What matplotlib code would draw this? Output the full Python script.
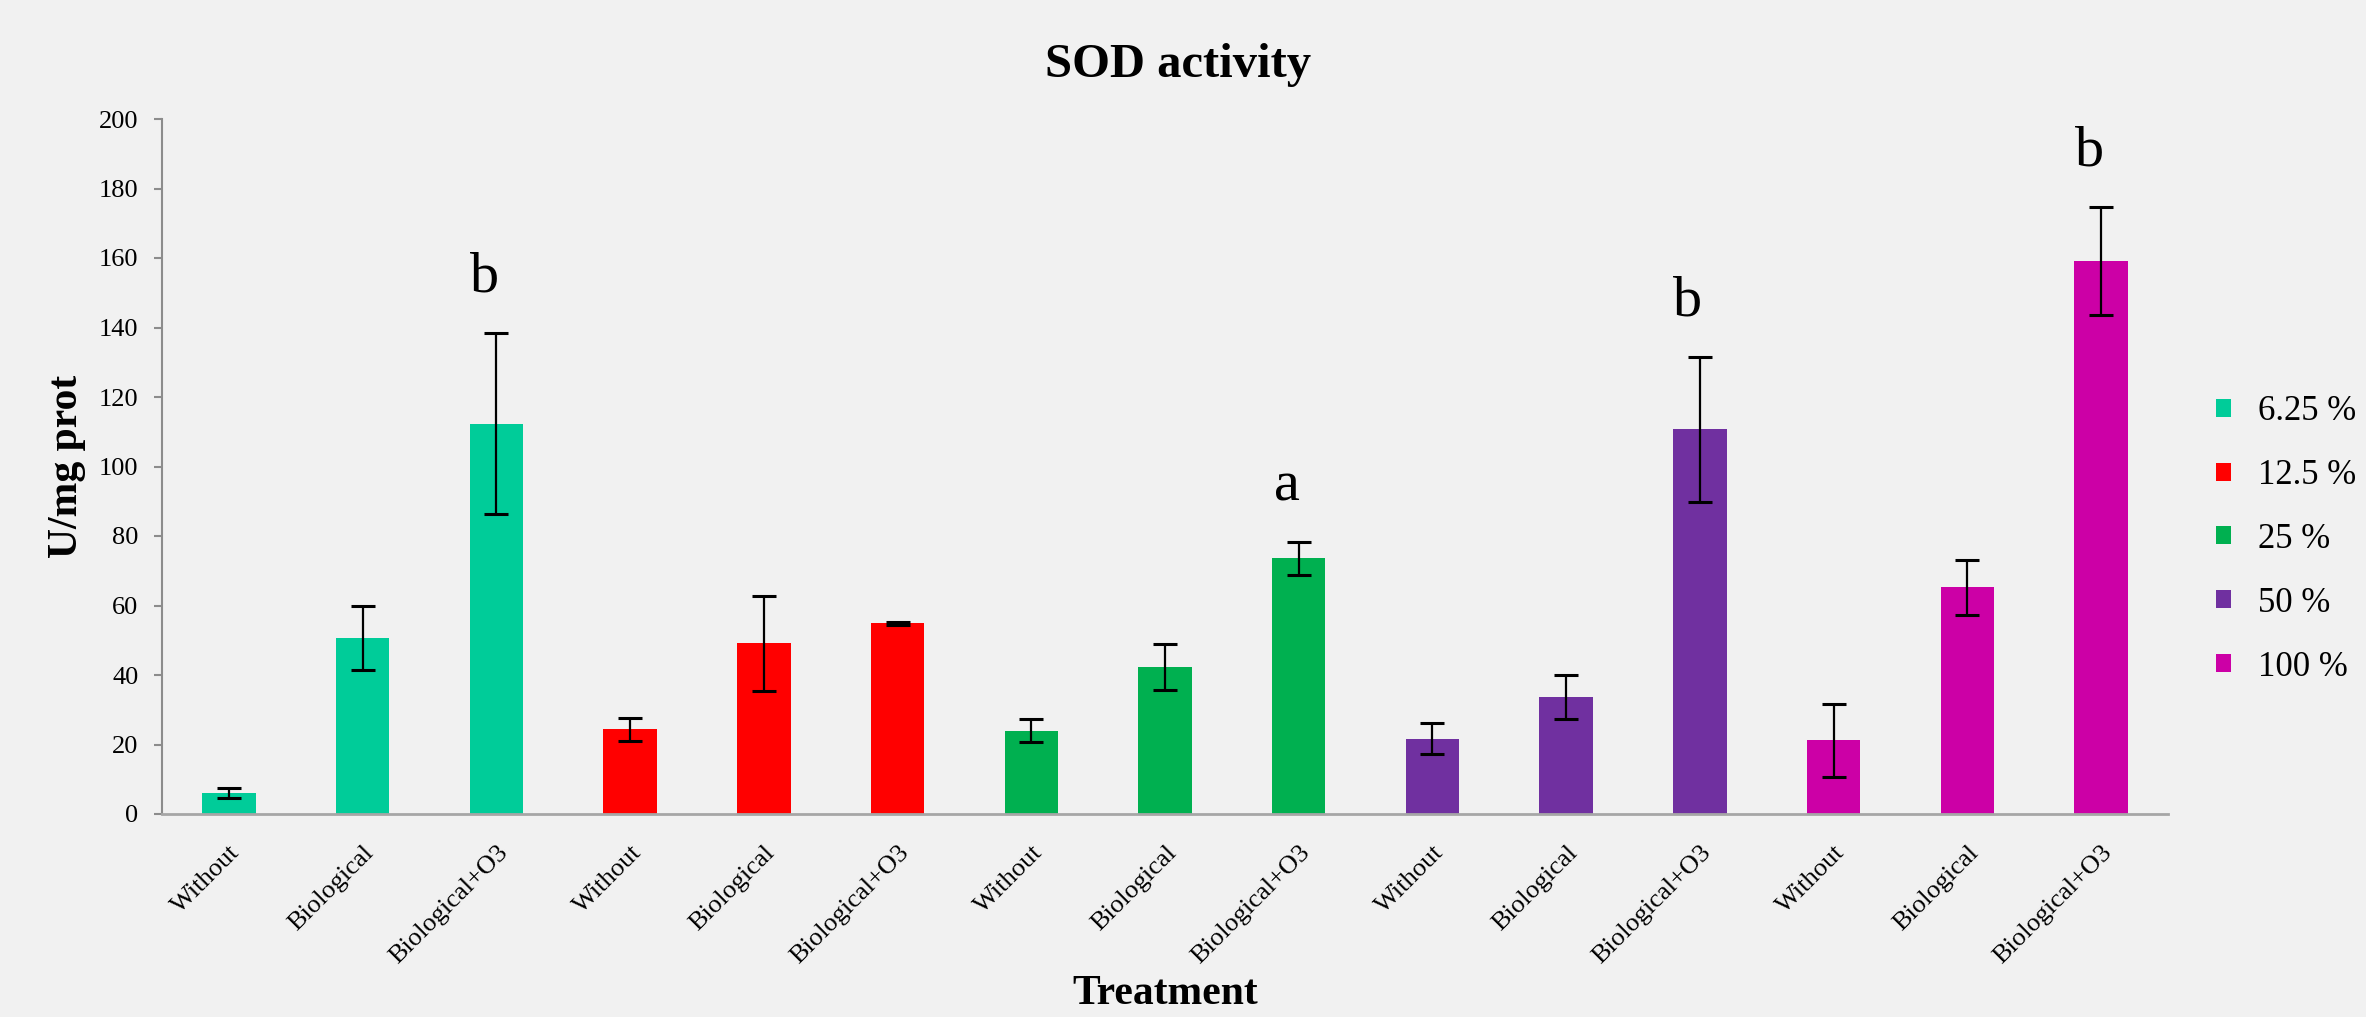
import matplotlib
matplotlib.use("Agg")
import matplotlib.pyplot as plt
from matplotlib.patches import Patch
import numpy as np

# ---------------- data ----------------
treatments = ["Without", "Biological", "Biological+O3"]
concentrations = ["6.25 %", "12.5 %", "25 %", "50 %", "100 %"]

sod_6_25 = [6.0, 50.6, 112.3]
sod_12_5 = [24.4, 49.1, 54.9]
sod_25 = [24.0, 42.2, 73.6]
sod_50 = [21.7, 33.6, 110.7]
sod_100 = [21.2, 65.2, 159.2]

err_6_25 = [1.5, 9.3, 26.0]
err_12_5 = [3.3, 13.6, 0.4]
err_25 = [3.2, 6.6, 4.7]
err_50 = [4.5, 6.4, 20.8]
err_100 = [10.5, 7.8, 15.5]

letters_6_25 = ["", "", "b"]
letters_12_5 = ["", "", ""]
letters_25 = ["", "", "a"]
letters_50 = ["", "", "b"]
letters_100 = ["", "", "b"]

yticks = [0, 20, 40, 60, 80, 100, 120, 140, 160, 180, 200]

colors = ["#00CC99", "#FF0000", "#00B050", "#7030A0", "#CC00A6"]

means = [sod_6_25, sod_12_5, sod_25, sod_50, sod_100]
errs = [err_6_25, err_12_5, err_25, err_50, err_100]
letters = [letters_6_25, letters_12_5, letters_25, letters_50, letters_100]

# ---------------- style ----------------
BG = "#F1F1F1"
FONT = "Liberation Serif"
plt.rcParams["font.family"] = [FONT, "DejaVu Serif"]

W, H = 2366, 1017
fig = plt.figure(figsize=(W / 100, H / 100), dpi=100, facecolor=BG)
ax = fig.add_axes([162 / W, 1 - 814 / H, (2168 - 162) / W, (814 - 119) / H])
ax.set_facecolor(BG)

xlabels = []
pos = 0
for g, (m, e, lt, c) in enumerate(zip(means, errs, letters, colors)):
    x = np.arange(len(m)) + pos
    ax.bar(x, m, width=0.40, color=c, zorder=2)
    ax.errorbar(x, m, yerr=e, fmt="none", ecolor="black", elinewidth=1.6,
                capsize=8.5, capthick=2.2, zorder=3)
    for xi, mi, ei, li in zip(x, m, e, lt):
        if li:
            ax.text(xi - 0.09, mi + ei + 12, li, ha="center", va="baseline",
                    fontsize=42, family=FONT)
    xlabels += treatments
    pos += len(m)

ax.set_xlim(-0.5, pos - 0.5)
ax.set_ylim(0, 200)
ax.set_yticks(yticks)
ax.set_xticks(np.arange(pos))
ax.set_xticklabels(xlabels, rotation=45, ha="right", va="top",
                   rotation_mode="anchor", fontsize=19, family=FONT)
ax.tick_params(axis="x", length=0, pad=20)
ax.tick_params(axis="y", length=6, width=1.5, color="#8C8C8C", pad=11,
               labelsize=19)
for lab in ax.get_yticklabels():
    lab.set_family(FONT)

for s in ["top", "right"]:
    ax.spines[s].set_visible(False)
ax.spines["left"].set_color("#8C8C8C")
ax.spines["left"].set_linewidth(1.5)
ax.spines["bottom"].set_color("#A6A6A6")
ax.spines["bottom"].set_linewidth(2)

ax.set_ylabel("U/mg prot", fontsize=30, fontweight="bold", family=FONT)
ax.yaxis.set_label_coords(-0.038, 0.5)
ax.set_xlabel("Treatment", fontsize=30, fontweight="bold", family=FONT)
ax.xaxis.set_label_coords(0.5, -0.232)

fig.text(1178 / W, 1 - 77 / H, "SOD activity", ha="center", va="baseline",
         fontsize=35, fontweight="bold", family=FONT)

handles = [Patch(facecolor=c, edgecolor="none") for c in colors]
fig.legend(handles, concentrations, loc="upper left",
           bbox_to_anchor=(2216 / W, 1 - 395 / H), frameon=False,
           handlelength=0.42, handleheight=0.42,
           handletextpad=0.8, labelspacing=0.89, borderpad=0,
           borderaxespad=0, prop={"family": FONT, "size": 25})

fig.savefig("out.png", dpi=100, facecolor=BG)
